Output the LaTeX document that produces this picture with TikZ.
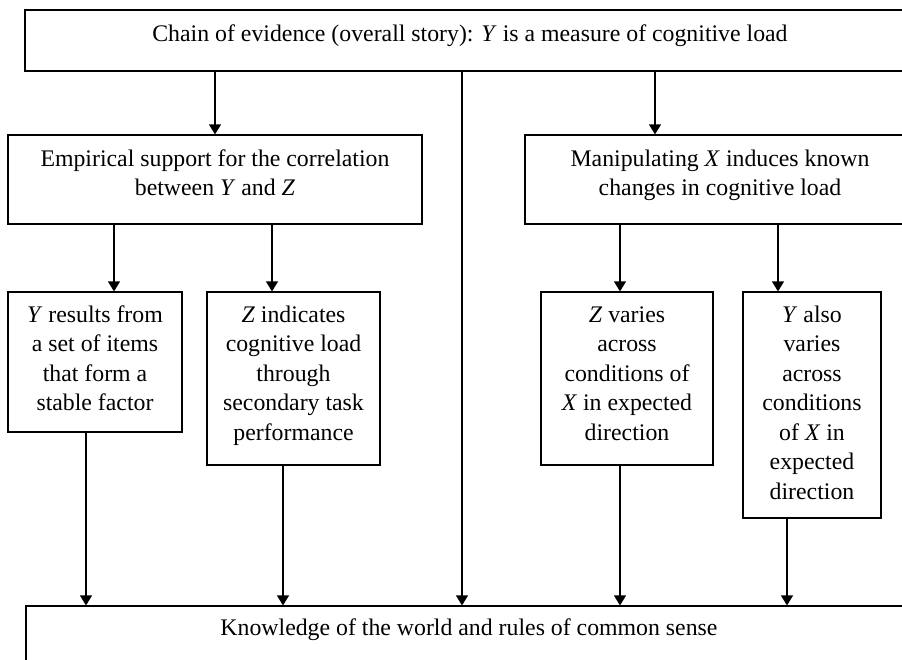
\documentclass[tikz,border=0pt]{standalone}
\usepackage{fontspec}
\setmainfont{Liberation Serif}
\usetikzlibrary{arrows.meta,calc,fit}
\begin{document}
\begin{tikzpicture}[x=0.5pt, y=-0.5pt]
    \tikzstyle{box} = [rectangle, draw, line width=0.6pt, inner sep=0pt]
    \tikzstyle{txt} = [align=center, inner sep=0pt, anchor=north, font=\fontsize{11.9}{14.75}\selectfont]
    \tikzstyle{line} = [draw, line width=0.6pt, -{Triangle[width=6pt, length=5pt]}]

    \useasboundingbox (0,0) rectangle (902,660);
    \clip (0,0) rectangle (902,660);

    % boxes
    \node [box, fit={(25,10) (915,71)}] (chain) {};
    \node [box, fit={(8,135) (422,224)}] (emp) {};
    \node [box, fit={(525,135) (915,224)}] (manip) {};
    \node [box, fit={(8,292) (182,432)}] (yres) {};
    \node [box, fit={(207,292) (380,465)}] (zind) {};
    \node [box, fit={(541,292) (713,465)}] (zvar) {};
    \node [box, fit={(743,292) (881,518)}] (yalso) {};
    \node [box, fit={(26,606) (912,700)}] (world) {};

    % texts
    \node [txt] (chaintxt) at ([yshift=-5.4pt]chain.north) {\strut Chain of evidence (overall story): \textit{Y} is a measure of cognitive load};
    \node [txt] (emptxt) at ([yshift=-5.4pt]emp.north) {\strut Empirical support for the correlation\\between \textit{Y} and \textit{Z}};
    \node [txt] (maniptxt) at ([yshift=-5.4pt]manip.north) {\strut Manipulating \textit{X} induces known\\changes in cognitive load};
    \node [txt] (yrestxt) at ([yshift=-4.9pt]yres.north) {\strut\textit{Y} results from\\a set of items\\that form a\\stable factor};
    \node [txt] (zindtxt) at ([yshift=-4.9pt]zind.north) {\strut\textit{Z} indicates\\cognitive load\\through\\secondary task\\performance};
    \node [txt] (zvartxt) at ([yshift=-4.9pt]zvar.north) {\strut\textit{Z} varies\\across\\conditions of\\\textit{X} in expected\\direction};
    \node [txt] (yalsotxt) at ([yshift=-4.9pt]yalso.north) {\strut\textit{Y} also\\varies\\across\\conditions\\of \textit{X} in\\expected\\direction};
    \node [txt] (worldtxt) at ([yshift=-4.4pt]world.north) {\strut Knowledge of the world and rules of common sense};

    % entry points
    \coordinate (manipin) at ($(manip.north)+(-65,0)$);
    \coordinate (worldin) at ($(chain.south)+(-8,0)$);
    \coordinate (yresin) at ($(yres.north)+(19,0)$);
    \coordinate (zindin) at ($(zind.north)+(-21.5,0)$);
    \coordinate (zvarin) at ($(zvar.north)+(-7,0)$);
    \coordinate (yalsoin) at ($(yalso.north)+(-34,0)$);
    \coordinate (yresout) at ($(yres.south)+(-9,0)$);
    \coordinate (zindout) at ($(zind.south)+(-10.5,0)$);
    \coordinate (zvarout) at ($(zvar.south)+(-7,0)$);
    \coordinate (yalsoout) at ($(yalso.south)+(-25,0)$);

    % arrows
    \draw [line] (chain.south -| emp.north) -- (emp.north);
    \draw [line] (chain.south -| manipin) -- (manipin);
    \draw [line] (worldin) -- (world.north -| worldin);
    \draw [line] (emp.south -| yresin) -- (yresin);
    \draw [line] (emp.south -| zindin) -- (zindin);
    \draw [line] (manip.south -| zvarin) -- (zvarin);
    \draw [line] (manip.south -| yalsoin) -- (yalsoin);
    \draw [line] (yresout) -- (world.north -| yresout);
    \draw [line] (zindout) -- (world.north -| zindout);
    \draw [line] (zvarout) -- (world.north -| zvarout);
    \draw [line] (yalsoout) -- (world.north -| yalsoout);
\end{tikzpicture}
\end{document}
